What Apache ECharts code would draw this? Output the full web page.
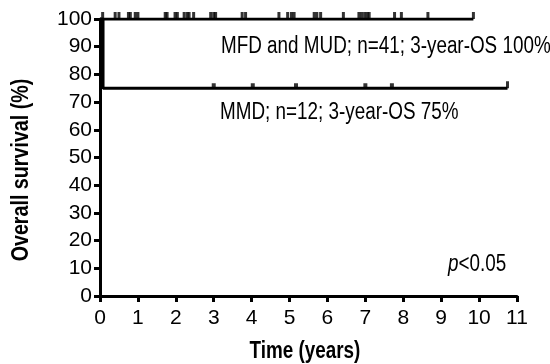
<!DOCTYPE html>
<html><head><meta charset="utf-8">
<script src="https://cdn.jsdelivr.net/npm/echarts@6/dist/echarts.min.js"></script>
<style>html,body{margin:0;padding:0;background:#fff}#c{width:550px;height:364px}</style>
</head><body><div id="c"></div>
<script>
var xTicks = [0,1,2,3,4,5,6,7,8,9,10,11];
var yTicks = [0,10,20,30,40,50,60,70,80,90,100];
// Kaplan-Meier step curves (time in years, survival %)
var mfdTimes = [0, 9.85];
var mfdSurv  = [100, 100];
var mmdTimes = [0, 0.08, 0.08, 0.08, 0.08, 0.08, 0.08, 10.75];
var mmdSurv  = [100, 100, 91.7, 91.7, 83.3, 83.3, 75, 75];
// censoring marks
var mfdCensor = [0.07,0.4,0.5,0.75,0.8,0.93,1.0,1.72,1.77,1.98,2.04,2.22,2.3,2.35,2.47,2.92,3.0,3.05,3.75,3.84,4.72,4.95,5.05,5.12,5.65,5.72,5.82,6.42,6.83,6.9,6.98,7.05,7.1,7.77,7.95,8.65,9.85];
var mfdCensorSurv = 100;
var mmdCensor = [3.0,4.03,5.17,7.0,7.7];
var mmdEnd = [10.75];
var mmdCensorSurv = 75;
var labelMFD = 'MFD and MUD; n=41; 3-year-OS 100%';
var labelMMD = 'MMD; n=12; 3-year-OS 75%';
var xTitle = 'Time (years)';
var yTitle = 'Overall survival (%)';

var FONT = "'Liberation Sans',Arial,sans-serif";
var NARROW = 0.82;
function zip(a,b){return a.map(function(v,i){return [v,b[i]];});}
var chart = echarts.init(document.getElementById('c'));
chart.setOption({
  animation:false,
  backgroundColor:'#fff',
  grid:{left:100,right:33,top:19,bottom:68},
  xAxis:{type:'value',min:0,max:11,interval:1,
    axisLine:{lineStyle:{color:'#000',width:3}},
    axisTick:{length:6,lineStyle:{color:'#000',width:3}},
    axisLabel:{fontFamily:FONT,fontSize:21,color:'#000',margin:12,formatter:function(v){return xTicks.indexOf(v)>=0?String(v):'';}},
    splitLine:{show:false}},
  yAxis:{type:'value',min:0,max:100,interval:10,
    axisLine:{show:true,lineStyle:{color:'#000',width:3}},
    axisTick:{show:true,length:6,lineStyle:{color:'#000',width:3}},
    axisLabel:{fontFamily:FONT,fontSize:21,color:'#000',margin:8,formatter:function(v){return yTicks.indexOf(v)>=0?String(v):'';}},
    splitLine:{show:false}},
  series:[
    {type:'line',data:zip(mfdTimes,mfdSurv),symbol:'none',lineStyle:{color:'#000',width:3},z:3},
    {type:'line',data:zip(mmdTimes,mmdSurv),symbol:'none',lineStyle:{color:'#000',width:3},z:3},
    {type:'scatter',data:mfdCensor.map(function(t){return [t,mfdCensorSurv];}),symbol:'rect',symbolSize:[3,7],symbolOffset:[0,-3.5],itemStyle:{color:'#000'},z:4},
    {type:'scatter',data:mmdCensor.map(function(t){return [t,mmdCensorSurv];}),symbol:'rect',symbolSize:[4,5],symbolOffset:[0,-2.5],itemStyle:{color:'#000'},z:4},
    {type:'scatter',data:mmdEnd.map(function(t){return [t,mmdCensorSurv];}),symbol:'rect',symbolSize:[3,7],symbolOffset:[0,-3.5],itemStyle:{color:'#000'},z:4}
  ],
  graphic:[
    {type:'text',x:221,y:47,scaleX:NARROW,style:{text:labelMFD,fontFamily:FONT,fontSize:23,fill:'#000',textVerticalAlign:'middle'}},
    {type:'text',x:220,y:113,scaleX:NARROW,style:{text:labelMMD,fontFamily:FONT,fontSize:23,fill:'#000',textVerticalAlign:'middle'}},
    {type:'text',x:448,y:265,scaleX:NARROW,style:{text:'{i|p}<0.05',fontFamily:FONT,fontSize:23,fill:'#000',textVerticalAlign:'middle',rich:{i:{fontStyle:'italic',fontFamily:FONT,fontSize:23,fill:'#000'}}}},
    {type:'text',x:305,y:352,scaleX:NARROW,style:{text:xTitle,fontFamily:FONT,fontWeight:'bold',fontSize:23,fill:'#000',textAlign:'center',textVerticalAlign:'middle'}},
    {type:'text',x:21,y:170,rotation:Math.PI/2,scaleX:NARROW,style:{text:yTitle,fontFamily:FONT,fontWeight:'bold',fontSize:24,fill:'#000',textAlign:'center',textVerticalAlign:'middle'}}
  ]
});
</script></body></html>
